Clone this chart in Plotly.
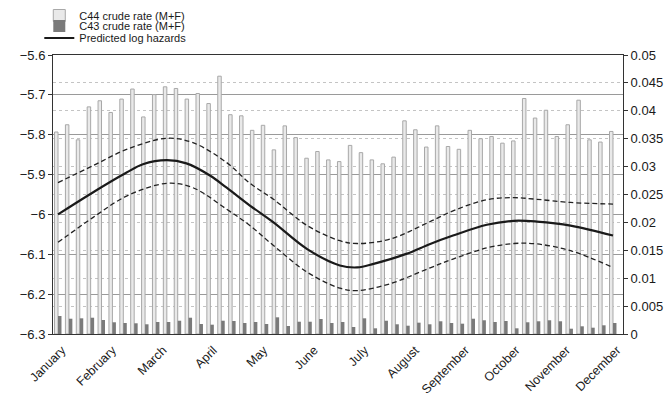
import numpy as np
import plotly.graph_objects as go

# ---- data ----
weeks = list(range(1, 53))
c44_rate = [0.0362, 0.0375, 0.0348, 0.0407, 0.0418, 0.0397, 0.0421, 0.0439, 0.0389, 0.0429,
            0.0443, 0.0440, 0.0421, 0.0431, 0.0413, 0.0462, 0.0393, 0.0391, 0.0365, 0.0374,
            0.0330, 0.0373, 0.0352, 0.0315, 0.0327, 0.0312, 0.0309, 0.0338, 0.0325, 0.0312,
            0.0305, 0.0317, 0.0382, 0.0366, 0.0335, 0.0373, 0.0336, 0.0331, 0.0365, 0.0350,
            0.0354, 0.0342, 0.0346, 0.0422, 0.0387, 0.0401, 0.0354, 0.0375, 0.0419, 0.0348,
            0.0344, 0.0363]
c43_rate = [0.00323, 0.00274, 0.00281, 0.00292, 0.00251, 0.00210, 0.00197, 0.00192, 0.00174, 0.00215,
            0.00215, 0.00238, 0.00292, 0.00179, 0.00167, 0.00238, 0.00233, 0.00197, 0.00215, 0.00179,
            0.00299, 0.00143, 0.00220, 0.00220, 0.00269, 0.00197, 0.00215, 0.00125, 0.00281, 0.00102,
            0.00238, 0.00174, 0.00149, 0.00203, 0.00174, 0.00228, 0.00197, 0.00185, 0.00274, 0.00246,
            0.00215, 0.00233, 0.00102, 0.00210, 0.00228, 0.00246, 0.00228, 0.00095, 0.00138, 0.00113,
            0.00156, 0.00197]

pred_week = [1.0, 4.2, 7.3, 8.8, 11.0, 12.8, 15.0, 16.5, 18.6, 20.8, 23.9, 26.9, 28.5,
             30.0, 33.0, 35.2, 37.3, 40.4, 42.9, 45.0, 48.1, 52.0]
pred_log = [-6.000, -5.945, -5.895, -5.874, -5.864, -5.872, -5.903, -5.933, -5.977, -6.020,
            -6.087, -6.128, -6.133, -6.124, -6.099, -6.074, -6.053, -6.026, -6.016, -6.018,
            -6.028, -6.053]

ci_week = [1.0, 4.2, 7.3, 11.0, 13.4, 16.5, 18.6, 20.8, 23.9, 26.9, 28.5, 31.5, 35.2,
           37.3, 40.4, 42.9, 45.0, 48.1, 52.0]
ci_upper = [-5.920, -5.878, -5.837, -5.809, -5.820, -5.870, -5.921, -5.962, -6.028, -6.066,
            -6.073, -6.062, -6.018, -5.991, -5.963, -5.958, -5.962, -5.970, -5.974]
ci_lower = [-6.070, -6.008, -5.954, -5.922, -5.933, -5.987, -6.027, -6.078, -6.145, -6.185,
            -6.191, -6.174, -6.134, -6.112, -6.084, -6.073, -6.074, -6.091, -6.133]

months = ["January", "February", "March", "April", "May", "June", "July",
          "August", "September", "October", "November", "December"]

FONT = "Liberation Sans, Arial, Helvetica, sans-serif"
W, H = 666, 403

fig = go.Figure()
# bars on the primary (right-side) axis, curves on the overlaying (left-side) axis so they draw on top
fig.add_trace(go.Bar(x=weeks, y=c44_rate, name="C44 crude rate (M+F)", yaxis="y", legend="legend",
                     marker=dict(color="#e9e9e9", line=dict(color="#a8a8a8", width=1))))
fig.add_trace(go.Bar(x=weeks, y=c43_rate, name="C43 crude rate (M+F)", yaxis="y", legend="legend2",
                     marker=dict(color="#7a7a7a", line=dict(width=0))))
fig.add_trace(go.Scatter(x=ci_week, y=ci_upper, mode="lines", showlegend=False, yaxis="y2",
                         line=dict(color="#222222", width=1.3, dash="5px,3px", shape="spline")))
fig.add_trace(go.Scatter(x=ci_week, y=ci_lower, mode="lines", showlegend=False, yaxis="y2",
                         line=dict(color="#222222", width=1.3, dash="5px,3px", shape="spline")))
fig.add_trace(go.Scatter(x=pred_week, y=pred_log, mode="lines", name="Predicted log hazards",
                         yaxis="y2", legend="legend3",
                         line=dict(color="#1a1a1a", width=2.2, shape="spline")))

leg_common = dict(xref="container", yref="container", x=0.059, xanchor="left", yanchor="top",
                  font=dict(size=11, color="#1a1a1a"), bgcolor="rgba(0,0,0,0)", itemwidth=30)

fig.update_layout(
    width=W, height=H,
    margin=dict(l=53, r=43, t=55, b=69, autoexpand=False),
    paper_bgcolor="white", plot_bgcolor="white",
    font=dict(family=FONT, size=13, color="#1a1a1a"),
    barmode="group", bargap=0.36, bargroupgap=0.0,
    showlegend=True,
    legend=dict(y=1 - 1.0 / H, **leg_common),
    legend2=dict(y=1 - 11.5 / H, **leg_common),
    legend3=dict(y=1 - 23.5 / H, **leg_common),
    xaxis=dict(range=[0.54, 52.92], tickmode="array",
               tickvals=list(np.linspace(1, 52, 12)), ticktext=months,
               tickangle=-45, tickfont=dict(size=12.5), ticks="",
               ticklabelshift=4, ticklabelstandoff=3,
               showgrid=False, zeroline=False,
               showline=True, linecolor="#333333", linewidth=1, mirror=True),
    yaxis=dict(range=[0, 0.05], dtick=0.005, tick0=0, side="right",
               ticks="outside", ticklen=4, tickcolor="#333333",
               showgrid=True, gridcolor="#c4c4c4", gridwidth=1, griddash="dot",
               zeroline=False, showline=True, linecolor="#333333", linewidth=1,
               tickfont=dict(size=13)),
    yaxis2=dict(range=[-6.3, -5.6], dtick=0.1, tick0=-6.3, side="left", overlaying="y",
                ticks="outside", ticklen=4, tickcolor="#333333",
                showgrid=True, gridcolor="#9a9a9a", gridwidth=1,
                zeroline=False, showline=True, linecolor="#333333", linewidth=1,
                tickfont=dict(size=13)),
)

fig.write_html("out.html", config={"displayModeBar": False},
               post_script="document.body.style.margin='0px';")
